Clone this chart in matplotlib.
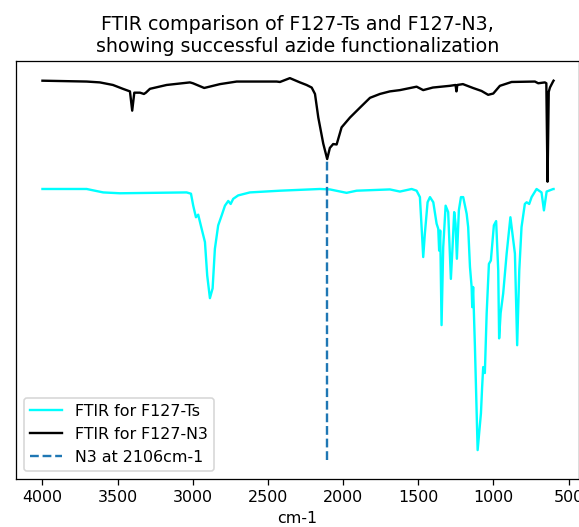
import matplotlib
matplotlib.use("Agg")
import matplotlib.pyplot as plt
import numpy as np

# F127-Ts spectrum (cyan), wavenumber cm-1 and offset transmittance (a.u.)
ts_wn = [4000, 3706, 3596, 3485, 3041, 3012, 2997, 2979, 2964, 2941, 2919, 2904,
         2886, 2868, 2853, 2831, 2808, 2786, 2764, 2748, 2731, 2698, 2620, 2420,
         2154, 2088, 1977, 1910, 1689, 1622, 1544, 1511, 1489, 1474, 1467, 1456,
         1438, 1422, 1400, 1378, 1367, 1361, 1354, 1345, 1334, 1318, 1301, 1283,
         1272, 1261, 1252, 1243, 1230, 1216, 1201, 1178, 1168, 1156, 1145, 1141,
         1135, 1123, 1105, 1083, 1075, 1068, 1057, 1045, 1030, 1017, 997, 982,
         968, 962, 952, 935, 912, 887, 857, 842, 828, 813, 791, 779, 762, 746,
         713, 680, 664, 646, 602, 600]
ts_val = [70.3, 70.3, 69.5, 69.3, 69.5, 69.2, 66.4, 63.7, 64.3, 61.0, 57.9, 50.1,
          44.8, 47.1, 56.3, 61.8, 64.1, 66.4, 67.5, 66.8, 68.0, 68.8, 69.5, 69.9,
          70.3, 70.2, 69.4, 69.9, 70.2, 69.7, 70.3, 69.9, 68.4, 59.0, 54.4, 59.9,
          67.2, 68.4, 67.2, 62.2, 61.0, 55.9, 60.6, 38.5, 56.7, 66.4, 64.9, 49.3,
          56.7, 64.9, 62.2, 54.0, 65.3, 68.4, 68.4, 64.5, 61.4, 52.1, 47.4, 42.7,
          47.4, 33.4, 9.3, 17.9, 24.1, 28.7, 27.3, 41.2, 52.8, 53.6, 61.8, 62.8,
          51.3, 35.4, 41.3, 45.9, 55.2, 63.7, 55.2, 33.8, 51.3, 61.4, 66.8, 67.2,
          66.8, 68.4, 70.3, 69.5, 65.3, 69.7, 70.3, 70.3]

# F127-N3 spectrum (black)
n3_wn = [4000, 3706, 3618, 3531, 3465, 3418, 3403, 3389, 3351, 3325, 3312, 3285,
         3174, 3019, 2999, 2924, 2819, 2708, 2442, 2420, 2354, 2287, 2243, 2209,
         2187, 2165, 2132, 2106, 2088, 2066, 2043, 2010, 1954, 1888, 1821, 1755,
         1689, 1622, 1511, 1467, 1403, 1290, 1252, 1246, 1240, 1203, 1136, 1079,
         1035, 1001, 957, 879, 724, 702, 658, 648, 640, 632, 624, 602, 600]
n3_val = [95.6, 95.4, 95.2, 94.6, 93.7, 93.1, 88.6, 92.8, 92.8, 92.5, 92.8, 93.7,
          94.6, 95.2, 95.0, 93.9, 94.8, 95.4, 95.4, 95.3, 96.2, 95.2, 94.6, 94.0,
          92.5, 87.0, 80.9, 77.3, 79.9, 80.8, 80.7, 84.7, 87.0, 89.3, 91.6, 92.5,
          93.1, 93.4, 94.2, 93.4, 94.0, 94.4, 94.6, 93.1, 94.6, 94.8, 93.9, 93.2,
          92.3, 92.6, 94.4, 95.3, 95.4, 95.0, 95.2, 95.0, 72.0, 93.0, 94.0, 95.5, 95.6]

n3_peak = 2106
n3_line_bottom = 7.0

DPI = 114
fig = plt.figure(figsize=(579 / DPI, 527 / DPI), dpi=DPI)
ax = fig.add_axes([16 / 579, 48 / 527, (578.5 - 16) / 579, 418 / 527])

ax.plot(ts_wn, ts_val, color="cyan", label="FTIR for F127-Ts")
ax.plot(n3_wn, n3_val, color="black", label="FTIR for F127-N3")
n3_top = n3_val[n3_wn.index(n3_peak)]
ax.vlines(n3_peak, n3_line_bottom, n3_top, colors="C0", linestyles="dashed",
          label="N3 at 2106cm-1")

ax.set_xlim(4176, 434)
ax.set_ylim(2.55, 100.2)
ax.set_yticks([])
ax.set_xticks([4000, 3500, 3000, 2500, 2000, 1500, 1000, 500])
ax.set_xlabel("cm-1")
ax.set_title("FTIR comparison of F127-Ts and F127-N3,\nshowing successful azide functionalization")
ax.legend(loc="lower left")

fig.savefig("out.png", dpi=DPI)
